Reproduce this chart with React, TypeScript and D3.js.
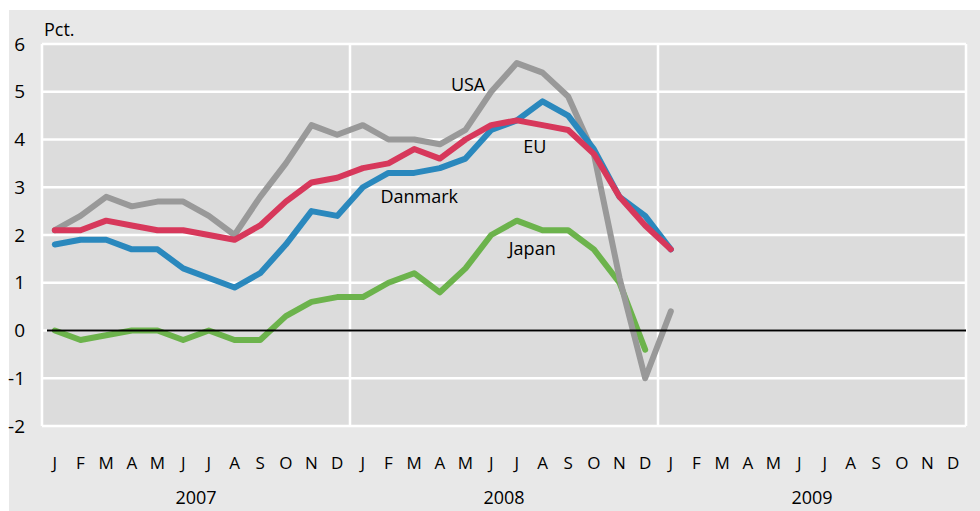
import * as d3 from 'd3';

// months on the axis (three years)
const monthLetters = ['J', 'F', 'M', 'A', 'M', 'J', 'J', 'A', 'S', 'O', 'N', 'D'];
const years = ['2007', '2008', '2009'];
const yTicks = [-2, -1, 0, 1, 2, 3, 4, 5, 6];

// inflation, pct. y/y, from Jan 2007
const usa = [2.1, 2.4, 2.8, 2.6, 2.7, 2.7, 2.4, 2.0, 2.8, 3.5, 4.3, 4.1, 4.3, 4.0, 4.0, 3.9, 4.2, 5.0, 5.6, 5.4, 4.9, 3.7, 1.1, -1.0, 0.4];
const eu = [2.1, 2.1, 2.3, 2.2, 2.1, 2.1, 2.0, 1.9, 2.2, 2.7, 3.1, 3.2, 3.4, 3.5, 3.8, 3.6, 4.0, 4.3, 4.4, 4.3, 4.2, 3.7, 2.8, 2.2, 1.7];
const danmark = [1.8, 1.9, 1.9, 1.7, 1.7, 1.3, 1.1, 0.9, 1.2, 1.8, 2.5, 2.4, 3.0, 3.3, 3.3, 3.4, 3.6, 4.2, 4.4, 4.8, 4.5, 3.8, 2.8, 2.4, 1.7];
const japan = [0.0, -0.2, -0.1, 0.0, 0.0, -0.2, 0.0, -0.2, -0.2, 0.3, 0.6, 0.7, 0.7, 1.0, 1.2, 0.8, 1.3, 2.0, 2.3, 2.1, 2.1, 1.7, 1.0, -0.4];

// drawing order: green, grey, blue, red
const series = [
    { name: 'Japan', values: japan, color: '#6cb34c', labelAt: [18.6, 1.72] },
    { name: 'USA', values: usa, color: '#999999', labelAt: [16.1, 5.15] },
    { name: 'Danmark', values: danmark, color: '#2a88bd', labelAt: [14.2, 2.8] },
    { name: 'EU', values: eu, color: '#d7385b', labelAt: [18.7, 3.85] },
];

export default function App() {
    const width = 980;
    const height = 511;
    const plot = { left: 42, right: 966, top: 44, bottom: 426 };
    const font = "'Open Sans', 'Noto Sans', sans-serif";

    const months = d3.range(years.length * 12);
    const xScale = d3.scaleBand<number>().domain(months).range([plot.left, plot.right]);
    const xc = (i: number) => (xScale(Math.floor(i)) as number) + xScale.bandwidth() * (0.5 + i - Math.floor(i));
    const yScale = d3.scaleLinear().domain([-2, 6]).range([plot.bottom, plot.top]);

    const line = d3
        .line<number>()
        .x((_, i) => xc(i))
        .y((d) => yScale(d));

    const yearWidth = xScale.bandwidth() * 12;

    return (
        <svg width={width} height={height} style={{ position: 'absolute', left: 0, top: 0 }} fontFamily={font}>
            <rect x={9} y={10} width={width - 9} height={height - 10} fill='#e8e8e8' />
            <rect x={plot.left} y={plot.top} width={plot.right - plot.left} height={plot.bottom - plot.top} fill='#dcdcdc' />

            {/* grid */}
            {yTicks.map((t) => (
                <line key={t} x1={plot.left} x2={plot.right} y1={yScale(t)} y2={yScale(t)} stroke='#fff' strokeWidth={2.5} />
            ))}
            {d3.range(years.length + 1).map((k) => (
                <line
                    key={k}
                    x1={plot.left + k * yearWidth}
                    x2={plot.left + k * yearWidth}
                    y1={plot.top}
                    y2={plot.bottom}
                    stroke='#fff'
                    strokeWidth={2.5}
                />
            ))}

            {/* series */}
            {series.map((s) => (
                <path
                    key={s.name}
                    d={line(s.values) as string}
                    fill='none'
                    stroke={s.color}
                    strokeWidth={6}
                    strokeLinejoin='round'
                    strokeLinecap='round'
                />
            ))}

            <line x1={plot.left + 5} x2={plot.right} y1={yScale(0)} y2={yScale(0)} stroke='#000' strokeWidth={1.8} />

            {series.map((s) => (
                <text
                    key={s.name}
                    x={xc(s.labelAt[0])}
                    y={yScale(s.labelAt[1])}
                    dy='0.35em'
                    textAnchor='middle'
                    fontSize={18}
                    fill='#000'
                >
                    {s.name}
                </text>
            ))}

            {/* y axis */}
            {yTicks.map((t) => (
                <text key={t} x={25} y={yScale(t)} dy='0.35em' textAnchor='end' fontSize={19} fill='#000'>
                    {t}
                </text>
            ))}
            <text x={44} y={36} fontSize={18} fill='#000'>
                Pct.
            </text>

            {/* x axis */}
            {months.map((m) => (
                <text key={m} x={xc(m)} y={463} dy='0.35em' textAnchor='middle' fontSize={17} fill='#000'>
                    {monthLetters[m % 12]}
                </text>
            ))}
            {years.map((yr, k) => (
                <text
                    key={yr}
                    x={plot.left + (k + 0.5) * yearWidth}
                    y={498}
                    dy='0.35em'
                    textAnchor='middle'
                    fontSize={18}
                    fill='#000'
                >
                    {yr}
                </text>
            ))}
        </svg>
    );
}
